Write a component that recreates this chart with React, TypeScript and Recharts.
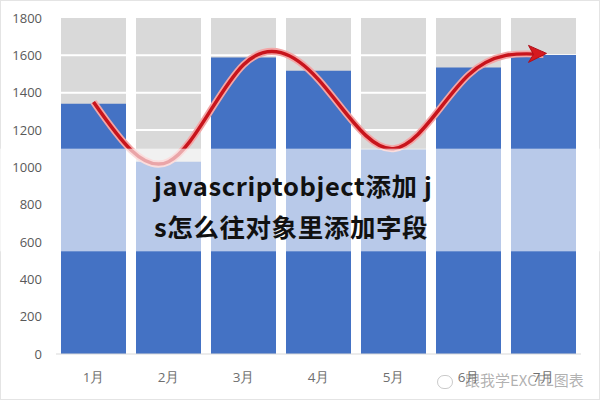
import React from 'react';
import { Bar, ComposedChart, Line, ReferenceArea, XAxis, YAxis } from 'recharts';

const months = ['1月', '2月', '3月', '4月', '5月', '6月', '7月'];
const totals = [1800, 1800, 1800, 1800, 1800, 1800, 1800];
const sales = [1340, 1030, 1588, 1518, 1095, 1535, 1602];
const trend = [1350, 1030, 1550, 1470, 1100, 1495, 1605];
const yTicks = [0, 200, 400, 600, 800, 1000, 1200, 1400, 1600, 1800];
const band = [550, 1100];

const title = ['javascriptobject添加 j', 's怎么往对象里添加字段'];
const watermark = '跟我学EXCEL图表';

const data = months.map((m, i) => ({ month: m, total: totals[i], sales: sales[i], trend: trend[i] }));

// gray background bar with white grid lines across it
const GrayBar = (props: any) => {
  const { x, y, width, height, payload } = props;
  return (
    <g>
      <rect x={x} y={y} width={width} height={height} fill="#D9D9D9" />
      {yTicks
        .filter((t) => t > 0 && t < payload.total)
        .map((t) => {
          const ly = y + height * (1 - t / payload.total);
          return <line key={t} x1={x} x2={x + width} y1={ly} y2={ly} stroke="#fff" strokeWidth={2} />;
        })}
    </g>
  );
};

const ArrowDot = (props: any) => {
  const { cx, cy, index } = props;
  if (index !== months.length - 1) return <g key={`d-${index}`} />;
  return (
    <path
      key={`d-${index}`}
      d={`M${cx + 3},${cy - 1} L${cx - 15},${cy - 9} L${cx - 10},${cy} L${cx - 15},${cy + 8} Z`}
      fill="#D61A1F"
      stroke="#B0101A"
      strokeWidth={1}
    />
  );
};

const Band = (props: any) => (
  <rect x={0} y={props.y} width={600} height={props.height} fill="#fff" fillOpacity={0.62} />
);

export default function App() {
  return (
    <div
      style={{
        position: 'absolute',
        left: 0,
        top: 0,
        width: 600,
        height: 400,
        background: '#fff',
        border: '1px solid #e4e4e4',
        boxSizing: 'border-box',
        fontFamily: '"Open Sans", sans-serif',
      }}
    >
      <ComposedChart
        width={600}
        height={400}
        data={data}
        margin={{ top: 18, right: 19, bottom: 16, left: 0 }}
        barGap={-65}
        style={{ position: 'absolute', left: -1, top: -1 }}
      >
        <XAxis
          dataKey="month"
          height={30}
          tickSize={0}
          tickMargin={18}
          axisLine={{ stroke: '#D9D9D9' }}
          tick={{ fill: '#6F6F6F', fontSize: 13.5 }}
        />
        <YAxis
          width={56}
          domain={[0, 1800]}
          ticks={yTicks}
          tickSize={0}
          tickMargin={14}
          axisLine={false}
          tick={{ fill: '#595959', fontSize: 13 }}
        />
        <Bar dataKey="total" barSize={65} shape={GrayBar} isAnimationActive={false} />
        <Bar dataKey="sales" barSize={65} fill="#4472C4" isAnimationActive={false} />
        <Line
          type="natural"
          dataKey="trend"
          stroke="#F3A6A6"
          strokeWidth={7}
          dot={false}
          activeDot={false}
          isAnimationActive={false}
        />
        <Line
          type="natural"
          dataKey="trend"
          stroke="#C8141C"
          strokeWidth={3.5}
          dot={ArrowDot}
          activeDot={false}
          isAnimationActive={false}
        />
        <ReferenceArea y1={band[0]} y2={band[1]} shape={Band} ifOverflow="visible" zIndex={1500} />
      </ComposedChart>
      <div
        style={{
          position: 'absolute',
          left: 153,
          top: 163,
          fontFamily: '"Noto Sans CJK SC", sans-serif',
          fontWeight: 700,
          fontSize: 25.5,
          letterSpacing: 0.6,
          lineHeight: '41px',
          color: '#111',
          whiteSpace: 'pre',
        }}
      >
        {title.map((t) => (
          <div key={t}>{t}</div>
        ))}
      </div>
      <div
        style={{
          position: 'absolute',
          left: 436,
          top: 368,
          fontFamily: '"Noto Sans CJK SC", sans-serif',
          fontSize: 15,
          color: 'rgba(110,110,110,0.55)',
          whiteSpace: 'pre',
        }}
      >
        <span style={{ display: 'inline-block', width: 14, height: 12, borderRadius: 7, border: '1px solid rgba(150,150,150,0.5)', marginRight: 12, verticalAlign: 'middle' }} />
        {watermark}
      </div>
    </div>
  );
}
